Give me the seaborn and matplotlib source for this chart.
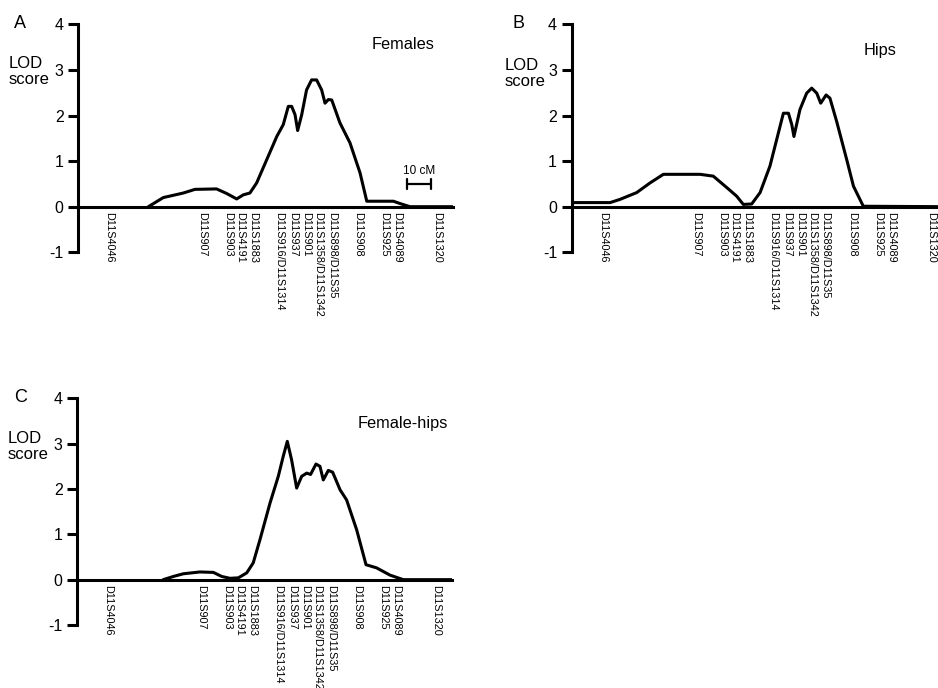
import matplotlib
matplotlib.use("Agg")
import matplotlib.pyplot as plt
import seaborn as sns
import pandas as pd

# ---------------- data ----------------
marker_names = ["D11S4046", "D11S907", "D11S903", "D11S4191", "D11S1883",
                "D11S916/D11S1314", "D11S937", "D11S901", "D11S1358/D11S1342",
                "D11S898/D11S35", "D11S908", "D11S925", "D11S4089", "D11S1320"]
marker_cm = [12.9, 51.7, 62.5, 67.5, 72.9, 83.75, 89.6, 95.0, 100.0, 105.8,
             116.7, 127.5, 132.9, 149.6]

females_cm = [29.2, 35.4, 43.75, 48.6, 57.6, 61.8, 66.0, 68.75, 71.5, 74.3, 78.5,
              82.7, 85.4, 87.5, 88.9, 90.3, 91.4, 93.1, 95.1, 97.2, 99.3, 101.4,
              102.8, 104.2, 105.6, 109.0, 113.2, 117.4, 120.2, 131.3, 134.0, 138.2, 156.0]
females_lod = [0.0, 0.2, 0.3, 0.38, 0.39, 0.29, 0.17, 0.26, 0.3, 0.52, 1.03,
               1.54, 1.8, 2.2, 2.2, 2.02, 1.67, 2.02, 2.56, 2.78, 2.78, 2.56,
               2.27, 2.35, 2.34, 1.84, 1.4, 0.74, 0.12, 0.12, 0.07, 0.0, 0.0]

hips_cm = [0.7, 16.0, 20.1, 27.1, 32.6, 38.2, 53.5, 59.0, 64.6, 68.75, 71.5, 75.0,
           78.5, 82.6, 85.4, 88.2, 90.3, 91.7, 92.6, 95.1, 97.9, 100.0, 102.1,
           103.75, 106.0, 107.6, 110.4, 114.6, 117.4, 121.5, 156.0]
hips_lod = [0.09, 0.09, 0.16, 0.31, 0.52, 0.71, 0.71, 0.67, 0.42, 0.23, 0.05, 0.06,
            0.31, 0.89, 1.47, 2.05, 2.05, 1.8, 1.54, 2.13, 2.49, 2.6, 2.49,
            2.27, 2.45, 2.38, 1.87, 1.03, 0.45, 0.01, 0.0]

fhips_cm = [35.8, 40.0, 44.2, 51.1, 56.7, 60.2, 63.6, 67.1, 70.6, 73.3, 76.1, 80.3,
            83.75, 85.8, 87.5, 89.3, 91.4, 93.5, 95.6, 97.2, 99.45, 101.1, 102.5,
            104.6, 106.4, 109.5, 112.2, 116.4, 120.3, 124.7, 130.3, 135.8, 156.0]
fhips_lod = [0.0, 0.07, 0.13, 0.17, 0.16, 0.07, 0.03, 0.04, 0.15, 0.37, 0.88, 1.69,
             2.28, 2.72, 3.05, 2.64, 2.02, 2.28, 2.35, 2.32, 2.55, 2.5, 2.2,
             2.41, 2.37, 1.98, 1.76, 1.1, 0.33, 0.26, 0.1, 0.0, 0.0]

y_ticks = [-1, 0, 1, 2, 3, 4]
panel_letters = ["A", "B", "C"]
panel_titles = ["Females", "Hips", "Female-hips"]
scale_bar_cm = 10

# ---------------- style ----------------
sns.set_theme(style="ticks")
plt.rcParams["font.family"] = ["Liberation Sans", "DejaVu Sans"]

W, H = 938, 688
fig = plt.figure(figsize=(W / 100, H / 100), dpi=100)
fig.patch.set_facecolor("white")


def fx(px):
    return px / W


def fy(py):
    return 1 - py / H


XMAX = 156.0
PX_PER_CM = 2.4
LW = 2.2


def make_axes(left_px, top_px, bottom_px):
    width_px = XMAX * PX_PER_CM
    ax = fig.add_axes([fx(left_px), fy(bottom_px), width_px / W, (bottom_px - top_px) / H])
    ax.set_facecolor("none")
    ax.set_xlim(0, XMAX)
    ax.set_ylim(-1, 4)
    for s in ["top", "right"]:
        ax.spines[s].set_visible(False)
    ax.spines["left"].set_bounds(-1, 4)
    ax.spines["left"].set_linewidth(LW)
    ax.spines["left"].set_color("black")
    ax.spines["bottom"].set_position(("data", 0))
    ax.spines["bottom"].set_linewidth(LW)
    ax.spines["bottom"].set_color("black")
    ax.set_yticks(y_ticks)
    ax.set_yticklabels([str(t) for t in y_ticks])
    ax.tick_params(axis="y", length=7, width=LW, pad=3.5, labelsize=11.5, colors="black")
    ax.set_xticks(marker_cm)
    ax.set_xticklabels(marker_names, rotation=270, fontsize=7.8)
    ax.tick_params(axis="x", length=0, pad=4, colors="black")
    ax.set_xlabel("")
    ax.set_ylabel("")
    return ax


panels = [
    (78.3, 24.3, 252.3, females_cm, females_lod),
    (571.7, 24.3, 252.3, hips_cm, hips_lod),
    (77.3, 398.3, 625.0, fhips_cm, fhips_lod),
]
axes = []
for left, top, bottom, xs, ys in panels:
    ax = make_axes(left, top, bottom)
    df = pd.DataFrame({"cM": xs, "LOD": ys})
    sns.lineplot(data=df, x="cM", y="LOD", ax=ax, color="black", lw=LW,
                 sort=False, estimator=None, solid_joinstyle="round")
    ax.set_xlabel("")
    ax.set_ylabel("")
    axes.append(ax)

# scale bar in panel A
axA = axes[0]
sb_start = 137.0
axA.plot([sb_start, sb_start + scale_bar_cm], [0.49, 0.49], color="black", lw=1.6)
axA.plot([sb_start, sb_start], [0.38, 0.60], color="black", lw=1.6)
axA.plot([sb_start + scale_bar_cm, sb_start + scale_bar_cm], [0.38, 0.60], color="black", lw=1.6)
axA.text(sb_start + scale_bar_cm / 2, 0.72, f"{scale_bar_cm} cM", ha="center",
         va="baseline", fontsize=8.5, color="black")

# text annotations
letter_pos = [(14, 28), (513, 28), (14, 402)]
title_pos = [(372, 49), (864, 55), (358, 428)]
lod_pos = [(9, 56), (505, 58), (8, 431)]
for i in range(3):
    fig.text(fx(letter_pos[i][0]), fy(letter_pos[i][1]), panel_letters[i],
             fontsize=13, va="baseline", ha="left", color="black")
    fig.text(fx(title_pos[i][0]), fy(title_pos[i][1]), panel_titles[i],
             fontsize=11.8, va="baseline", ha="left", color="black")
    fig.text(fx(lod_pos[i][0]), fy(lod_pos[i][1]), "LOD\nscore",
             fontsize=12, va="top", ha="left", color="black", linespacing=1.12)

fig.savefig("out.png", dpi=100, facecolor="white")
